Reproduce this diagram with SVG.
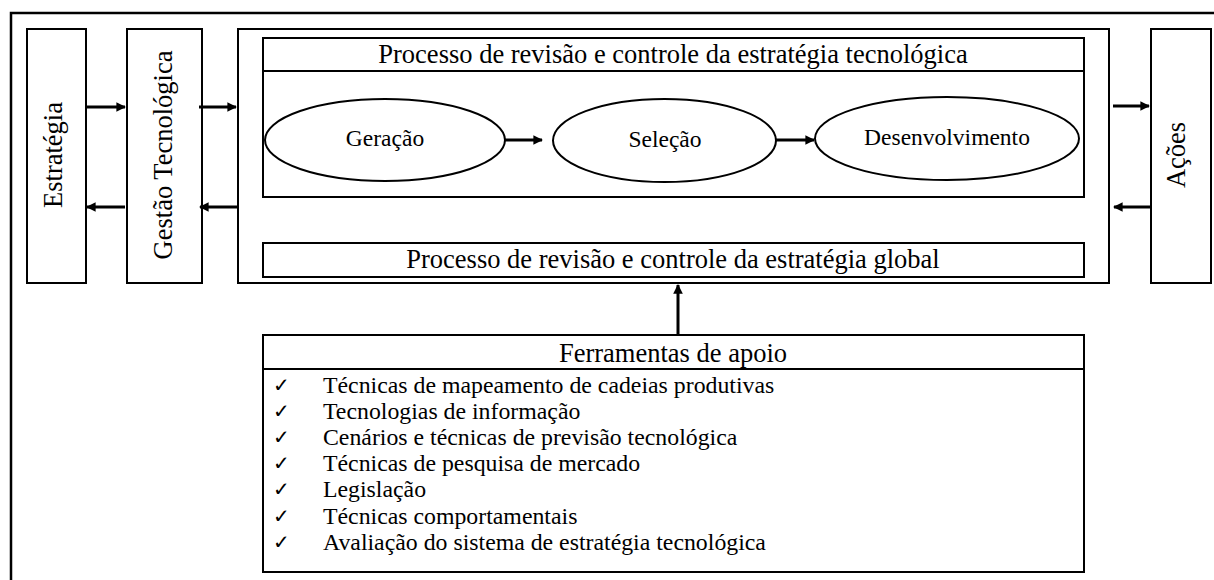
<svg xmlns="http://www.w3.org/2000/svg" width="1214" height="580" viewBox="0 0 1214 580">
<defs>
<style>
.box{fill:#fff;stroke:#000;stroke-width:2}
.ell{fill:#fff;stroke:#000;stroke-width:2}
text{font-family:'Liberation Serif','Times New Roman',Times,serif;fill:#000}
.big{font-size:26.5px}
.vert{font-size:26.5px}
.mid{font-size:23.5px}
.item{font-size:23.8px}
.chk{font-family:'DejaVu Sans',sans-serif;font-size:20px}
.arr{stroke:#000;stroke-width:3;fill:none;marker-end:url(#ah)}
</style>
<marker id="ah" viewBox="0 0 10 10" refX="9" refY="5" markerWidth="3.2" markerHeight="3.2" orient="auto" markerUnits="strokeWidth">
<path d="M0,0 L10,5 L0,10 z" fill="#000"/>
</marker>
</defs>
<rect width="1214" height="580" fill="#fff"/>
<g id="frame"><rect x="11" y="13" width="1215" height="600" fill="none" stroke="#000" stroke-width="2.5"/></g>

<g id="estrategia">
<rect class="box" x="27" y="29" width="59" height="254"/>
<text class="vert" transform="translate(62,155) rotate(-90)" text-anchor="middle">Estratégia</text>
</g>
<g id="gestao">
<rect class="box" x="127" y="29" width="75" height="254"/>
<text class="vert" transform="translate(172,155) rotate(-90)" text-anchor="middle">Gestão Tecnológica</text>
</g>
<g id="processo">
<rect class="box" x="238" y="29" width="871" height="254"/>
</g>
<g id="tecnologica">
<rect class="box" x="263" y="38" width="821" height="159"/>
<line x1="263" y1="71" x2="1084" y2="71" stroke="#000" stroke-width="2"/>
<text class="big" x="673" y="63" text-anchor="middle">Processo de revisão e controle da estratégia tecnológica</text>
</g>
<g id="geracao">
<ellipse class="ell" cx="385" cy="140" rx="120" ry="41"/>
<text class="mid" x="385" y="146" text-anchor="middle">Geração</text>
</g>
<g id="selecao">
<ellipse class="ell" cx="664.5" cy="140.5" rx="111.5" ry="41.5"/>
<text class="mid" x="665" y="147" text-anchor="middle">Seleção</text>
</g>
<g id="desenvolvimento">
<ellipse class="ell" cx="947" cy="138.5" rx="132" ry="41.5"/>
<text class="mid" x="947" y="145" text-anchor="middle">Desenvolvimento</text>
</g>
<g id="global">
<rect class="box" x="263" y="243" width="821" height="34"/>
<text class="big" x="673" y="268" text-anchor="middle">Processo de revisão e controle da estratégia global</text>
</g>
<g id="acoes">
<rect class="box" x="1151" y="29" width="60" height="254"/>
<text class="vert" transform="translate(1185,155) rotate(-90)" text-anchor="middle">Ações</text>
</g>
<g id="ferramentas">
<rect class="box" x="263" y="335" width="821" height="237"/>
<line x1="263" y1="369" x2="1084" y2="369" stroke="#000" stroke-width="2"/>
<text class="big" x="673" y="362" text-anchor="middle">Ferramentas de apoio</text>
<text class="chk" x="273" y="392">✓</text>
<text class="chk" x="273" y="418">✓</text>
<text class="chk" x="273" y="444">✓</text>
<text class="chk" x="273" y="470">✓</text>
<text class="chk" x="273" y="496">✓</text>
<text class="chk" x="273" y="523">✓</text>
<text class="chk" x="273" y="549">✓</text>
<text class="item" x="323" y="393">Técnicas de mapeamento de cadeias produtivas</text>
<text class="item" x="323" y="419">Tecnologias de informação</text>
<text class="item" x="323" y="445">Cenários e técnicas de previsão tecnológica</text>
<text class="item" x="323" y="471">Técnicas de pesquisa de mercado</text>
<text class="item" x="323" y="497">Legislação</text>
<text class="item" x="323" y="524">Técnicas comportamentais</text>
<text class="item" x="323" y="550">Avaliação do sistema de estratégia tecnológica</text>
</g>
<g id="connectors">
<line class="arr" x1="86" y1="107" x2="125" y2="107"/>
<line class="arr" x1="125" y1="207" x2="87" y2="207"/>
<line class="arr" x1="199" y1="107" x2="236" y2="107"/>
<line class="arr" x1="238" y1="207" x2="200" y2="207"/>
<line class="arr" x1="505" y1="140" x2="542" y2="140"/>
<line class="arr" x1="776" y1="140" x2="814" y2="140"/>
<line class="arr" x1="1113" y1="106" x2="1149" y2="106"/>
<line class="arr" x1="1151" y1="207" x2="1114" y2="207"/>
<line class="arr" x1="678" y1="334" x2="678" y2="285"/>
</g>
</svg>
